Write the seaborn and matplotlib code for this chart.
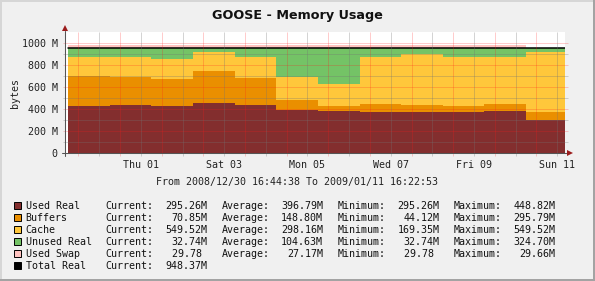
import numpy as np
import pandas as pd
import matplotlib
matplotlib.use("Agg")
import matplotlib.pyplot as plt
import matplotlib.dates as mdates
from matplotlib.transforms import blended_transform_factory
from matplotlib.patches import Rectangle
import seaborn as sns

# ---------------- data ----------------
title = "GOOSE - Memory Usage"
y_label = "bytes"
range_text = "From 2008/12/30 16:44:38 To 2009/01/11 16:22:53"
graph_start = "2008-12-30 16:44:38"
graph_end = "2009-01-11 16:22:53"

# boundaries of the daily consolidated steps (last one = end of data)
step_times = ["2008-12-30 18:00:00", "2008-12-31 18:00:00", "2009-01-01 18:00:00",
              "2009-01-02 18:00:00", "2009-01-03 18:00:00", "2009-01-04 18:00:00",
              "2009-01-05 18:00:00", "2009-01-06 18:00:00", "2009-01-07 18:00:00",
              "2009-01-08 18:00:00", "2009-01-09 18:00:00", "2009-01-10 18:00:00",
              "2009-01-11 16:22:53"]

# values in MB, one per daily step
used_real = [424.5, 433.6, 421.8, 448.8, 433.6, 386.0, 379.0, 370.0, 373.0, 373.0, 376.0, 295.26]
buffers = [272.5, 251.4, 248.2, 293.9, 242.4, 93.0, 45.5, 72.7, 61.0, 54.0, 66.7, 70.85]
cache = [176.0, 188.0, 179.0, 169.4, 191.0, 206.0, 199.2, 430.3, 459.0, 446.0, 430.3, 549.52]
unused_real = [75.4, 75.4, 99.4, 36.3, 81.4, 263.4, 324.7, 75.4, 55.4, 75.4, 75.4, 32.74]
used_swap = [29.66, 29.66, 29.66, 29.66, 29.66, 29.66, 29.66, 29.66, 29.66, 29.66, 29.66, 0.0]
total_real = [948.37, 948.37, 948.37, 948.37, 948.37, 948.37, 948.37, 948.37, 948.37, 948.37, 948.37, 948.37]

y_ticks = [0, 200, 400, 600, 800, 1000]
y_tick_labels = ["0", "200 M", "400 M", "600 M", "800 M", "1000 M"]
x_tick_times = ["2009-01-01 12:00:00", "2009-01-03 12:00:00", "2009-01-05 12:00:00",
                "2009-01-07 12:00:00", "2009-01-09 12:00:00", "2009-01-11 12:00:00"]
x_tick_labels = ["Thu 01", "Sat 03", "Mon 05", "Wed 07", "Fri 09", "Sun 11"]

series_names = ["Used Real", "Buffers", "Cache", "Unused Real", "Used Swap", "Total Real"]
series_colors = ["#832E2E", "#EA8F00", "#FFC73B", "#74C366", "#FFC3C0", "#000000"]
stat_current = ["295.26M", "70.85M", "549.52M", "32.74M", "29.78 ", "948.37M"]
stat_average = ["396.79M", "148.80M", "298.16M", "104.63M", "27.17M"]
stat_minimum = ["295.26M", "44.12M", "169.35M", "32.74M", "29.78 "]
stat_maximum = ["448.82M", "295.79M", "549.52M", "324.70M", "29.66M"]

# ---------------- styling ----------------
sns.set_theme(style="white")
plt.rcParams["font.family"] = ["DejaVu Sans Mono", "DejaVu Sans"]
MONO = "DejaVu Sans Mono"
FS = 7.2
W, H = 595, 281

fig = plt.figure(figsize=(W / 100, H / 100), dpi=100)
fig.patch.set_facecolor("#f0f0f0")

# frame (3D-ish border)
fig.add_artist(Rectangle((0, 1 - 2 / H), 1, 2 / H, transform=fig.transFigure, color="#d6d6d6", lw=0))
fig.add_artist(Rectangle((0, 0), 2 / W, 1, transform=fig.transFigure, color="#d6d6d6", lw=0))
fig.add_artist(Rectangle((1 - 2.5 / W, 0), 2.5 / W, 1, transform=fig.transFigure, color="#a3a3a3", lw=0))
fig.add_artist(Rectangle((0, 0), 1, 2.5 / H, transform=fig.transFigure, color="#a3a3a3", lw=0))

px_left, px_right, px_top, px_bottom = 65.9, 564.9, 32.3, 152.7
aw, ah = px_right - px_left, px_bottom - px_top
ax = fig.add_axes([px_left / W, 1 - px_bottom / H, aw / W, ah / H])
ax.set_facecolor("white")
for s in ax.spines.values():
    s.set_visible(False)

x0 = mdates.date2num(pd.Timestamp(graph_start))
x1 = mdates.date2num(pd.Timestamp(graph_end))

xs = mdates.date2num(pd.to_datetime(step_times))


def ext(a):
    a = np.asarray(a, dtype=float)
    return np.append(a, a[-1])


ax.stackplot(xs, ext(used_real), ext(buffers), ext(cache), ext(unused_real),
             colors=series_colors[:4], step="post", linewidth=0, zorder=2)
stack_top = ext(used_real) + ext(buffers) + ext(cache) + ext(unused_real)
ax.fill_between(xs, stack_top, stack_top + ext(used_swap), step="post",
                color=series_colors[4], linewidth=0, zorder=2)
df_total = pd.DataFrame({"t": xs, "v": ext(total_real)})
sns.lineplot(data=df_total, x="t", y="v", ax=ax, color="black", linewidth=1.1,
             drawstyle="steps-post", estimator=None, zorder=4)
ax.set_xlabel("")
ax.set_ylabel("")
ax.set_xlim(x0, x1)
ax.set_ylim(0, 1094)

# grid lines (drawn on top of data like rrdtool)
red_c = (1.0, 0.1, 0.1, 0.22)
gray_c = (0.45, 0.45, 0.45, 0.3)
ht = blended_transform_factory(ax.transAxes, ax.transData)
for v in range(100, 1001, 100):
    c = red_c if v % 200 == 0 else gray_c
    ax.plot([-3 / aw, 1 + 3 / aw], [v, v], transform=ht, color=c, lw=0.72,
            clip_on=False, zorder=5, solid_capstyle="butt")
vt = blended_transform_factory(ax.transData, ax.transAxes)
for d in pd.date_range("2008-12-31 00:00:00", "2009-01-11 12:00:00", freq="12h"):
    t = mdates.date2num(d)
    c = red_c if d.hour == 0 else gray_c
    ax.plot([t, t], [-3.5 / ah, 1], transform=vt, color=c, lw=0.72,
            clip_on=False, zorder=5, solid_capstyle="butt")

# axes lines with arrows
axis_c = "#555555"
arrow_c = "#9b1c1c"
ax.plot([-3.5 / aw, 1 + 2 / aw], [0, 0], transform=ax.transAxes, color=axis_c,
        lw=0.75, clip_on=False, zorder=6)
ax.plot([-0.5 / aw, -0.5 / aw], [-3.5 / ah, 1 + 1.5 / ah], transform=ax.transAxes,
        color=axis_c, lw=0.75, clip_on=False, zorder=6)
ax.plot([1 + 5 / aw], [0], transform=ax.transAxes, marker=">", ms=4.2,
        color=arrow_c, clip_on=False, zorder=7, mew=0)
ax.plot([-0.5 / aw], [1 + 4 / ah], transform=ax.transAxes, marker="^", ms=4.2,
        color=arrow_c, clip_on=False, zorder=7, mew=0)

# ticks
ax.set_yticks(y_ticks)
ax.set_yticklabels(y_tick_labels, fontfamily=MONO, fontsize=FS, color="#222222")
ax.set_xticks(mdates.date2num(pd.to_datetime(x_tick_times)))
ax.set_xticklabels(x_tick_labels, fontfamily=MONO, fontsize=FS, color="#222222")
ax.tick_params(axis="y", length=0, pad=6.0)
ax.tick_params(axis="x", length=0, pad=5.0)
ax.grid(False)

# texts
fig.text(297.5 / W, 1 - 15.5 / H, title, ha="center", va="center",
         fontsize=9.2, fontweight="bold", family="DejaVu Sans", color="#111111")
fig.text(15 / W, 1 - 92.5 / H, y_label, ha="center", va="center", rotation=90,
         fontsize=FS, family=MONO, color="#222222")
fig.text(297 / W, 1 - 182.5 / H, range_text, ha="center", va="center",
         fontsize=FS, family=MONO, color="#222222")

# legend rows
row0, row_step = 205.7, 12.0
for i, name in enumerate(series_names):
    yc = row0 + row_step * i
    yf = 1 - yc / H
    fig.add_artist(Rectangle((14 / W, 1 - (yc + 3.3) / H), 6.6 / W, 6.6 / H,
                             transform=fig.transFigure, facecolor=series_colors[i],
                             edgecolor="black", lw=0.7))
    kw = dict(va="center", fontsize=FS, family=MONO, color="#111111")
    fig.text(25.7 / W, yf, name, ha="left", **kw)
    fig.text(105.5 / W, yf, "Current:", ha="left", **kw)
    fig.text(207.6 / W, yf, stat_current[i], ha="right", **kw)
    if i < len(stat_average):
        fig.text(222 / W, yf, "Average:", ha="left", **kw)
        fig.text(323 / W, yf, stat_average[i], ha="right", **kw)
        fig.text(337.8 / W, yf, "Minimum:", ha="left", **kw)
        fig.text(439.5 / W, yf, stat_minimum[i], ha="right", **kw)
        fig.text(453.5 / W, yf, "Maximum:", ha="left", **kw)
        fig.text(555.2 / W, yf, stat_maximum[i], ha="right", **kw)

fig.savefig("out.png", dpi=100, facecolor=fig.get_facecolor())
